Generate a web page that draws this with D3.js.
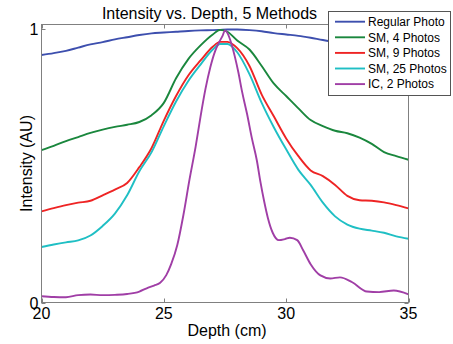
<!DOCTYPE html>
<html>
<head>
<meta charset="utf-8">
<script src="https://cdn.jsdelivr.net/npm/d3@7"></script>
<style>
  body { margin: 0; background: #fff; }
  svg { font-family: 'Liberation Sans', Arial, Helvetica, sans-serif; }
</style>
</head>
<body>
<div id="chart"></div>
<script>
// depth grid shared by the first four methods (cm)
const depthGrid = [20, 20.5, 21, 21.5, 22, 22.5, 23, 23.5, 24, 24.5, 25, 25.5, 26, 26.5, 27, 27.3,
  27.6, 28, 28.5, 29, 29.5, 30, 30.5, 31, 31.5, 32, 32.5, 33, 33.5, 34, 34.5, 35];

const regularPhoto = [0.905, 0.912, 0.92, 0.932, 0.944, 0.952, 0.962, 0.97, 0.978, 0.984, 0.987, 0.99,
  0.993, 0.995, 0.996, 0.997, 0.998, 0.998, 0.996, 0.992, 0.985, 0.98, 0.975, 0.968, 0.96, 0.953,
  0.948, 0.943, 0.939, 0.935, 0.93, 0.925];
const sm4 = [0.557, 0.573, 0.59, 0.605, 0.62, 0.632, 0.642, 0.65, 0.66, 0.685, 0.73, 0.82, 0.89, 0.94,
  0.98, 0.997, 0.99, 0.958, 0.925, 0.865, 0.8, 0.755, 0.71, 0.667, 0.645, 0.628, 0.619, 0.603, 0.58,
  0.55, 0.535, 0.522];
const sm9 = [0.333, 0.345, 0.356, 0.365, 0.372, 0.392, 0.413, 0.437, 0.495, 0.565, 0.665, 0.755, 0.83,
  0.885, 0.935, 0.953, 0.953, 0.93, 0.865, 0.76, 0.68, 0.6, 0.535, 0.483, 0.462, 0.43, 0.39, 0.374,
  0.372, 0.366, 0.356, 0.344];
const sm25 = [0.203, 0.212, 0.22, 0.227, 0.245, 0.28, 0.325, 0.392, 0.48, 0.55, 0.645, 0.735, 0.81,
  0.87, 0.925, 0.945, 0.945, 0.915, 0.835, 0.73, 0.64, 0.56, 0.485, 0.43, 0.365, 0.315, 0.285, 0.27,
  0.263, 0.255, 0.242, 0.233];

// IC curve is much narrower, so it has its own depth samples
const icDepth = [20, 20.5, 21, 21.5, 22, 22.5, 23, 23.5, 24, 24.3, 24.6, 24.85, 25.1, 25.3, 25.55, 25.8,
  26.05, 26.3, 26.5, 26.7, 26.9, 27.1, 27.25, 27.4, 27.5, 27.6, 27.75, 27.9, 28.05, 28.2, 28.4, 28.6,
  28.8, 28.95, 29.1, 29.25, 29.45, 29.7, 29.95, 30.15, 30.45, 30.7, 31, 31.4, 31.8, 32.2, 32.7, 33.3,
  33.8, 34.4, 35];
const ic2 = [0.023, 0.02, 0.019, 0.027, 0.029, 0.027, 0.028, 0.031, 0.04, 0.052, 0.062, 0.072, 0.1,
  0.14, 0.21, 0.32, 0.45, 0.57, 0.68, 0.78, 0.86, 0.92, 0.95, 0.975, 0.995, 0.985, 0.95, 0.9, 0.84,
  0.77, 0.69, 0.6, 0.52, 0.44, 0.37, 0.31, 0.255, 0.228, 0.232, 0.237, 0.228, 0.19, 0.14, 0.099,
  0.088, 0.092, 0.074, 0.04, 0.038, 0.044, 0.03];

const seriesNames = ['Regular Photo', 'SM, 4 Photos', 'SM, 9 Photos', 'SM, 25 Photos', 'IC, 2 Photos'];
const seriesColors = ['#3d4fae', '#1a873d', '#ee2424', '#1fbfc4', '#a03ea6'];
const xTicks = [20, 25, 30, 35];
const yTicks = [0, 1];

const series = [
  { name: seriesNames[0], color: seriesColors[0], xs: depthGrid, ys: regularPhoto },
  { name: seriesNames[1], color: seriesColors[1], xs: depthGrid, ys: sm4 },
  { name: seriesNames[2], color: seriesColors[2], xs: depthGrid, ys: sm9 },
  { name: seriesNames[3], color: seriesColors[3], xs: depthGrid, ys: sm25 },
  { name: seriesNames[4], color: seriesColors[4], xs: icDepth, ys: ic2 },
];

const W = 453, H = 344;
const plot = { left: 41.5, right: 408.5, top: 24.5, bottom: 302.5 };
const axisColor = '#808080';

const svg = d3.select('#chart').append('svg').attr('width', W).attr('height', H);

const x = d3.scaleLinear().domain([20, 35]).range([plot.left, plot.right]);
const y = d3.scaleLinear().domain([0, 1.0165]).range([plot.bottom, plot.top]);

const line = d3.line()
  .x((d) => x(d[0]))
  .y((d) => y(d[1]))
  .curve(d3.curveMonotoneX);

// lines
series.forEach((s) => {
  svg.append('path')
    .datum(s.xs.map((v, i) => [v, s.ys[i]]))
    .attr('fill', 'none')
    .attr('stroke', s.color)
    .attr('stroke-width', 1.9)
    .attr('stroke-linejoin', 'round')
    .attr('d', line);
});

// box
svg.append('rect')
  .attr('x', plot.left).attr('y', plot.top)
  .attr('width', plot.right - plot.left).attr('height', plot.bottom - plot.top)
  .attr('fill', 'none').attr('stroke', axisColor).attr('stroke-width', 1);

// x ticks (inward, top and bottom)
const tickLen = 4;
xTicks.forEach((t) => {
  const px = Math.round(x(t)) + 0.5;
  svg.append('line').attr('x1', px).attr('x2', px).attr('y1', plot.bottom).attr('y2', plot.bottom - tickLen)
    .attr('stroke', axisColor);
  svg.append('line').attr('x1', px).attr('x2', px).attr('y1', plot.top).attr('y2', plot.top + tickLen)
    .attr('stroke', axisColor);
  svg.append('text')
    .attr('x', x(t)).attr('y', 319)
    .attr('text-anchor', 'middle')
    .attr('font-size', 16)
    .text(t);
});

// y ticks
yTicks.forEach((t) => {
  const py = Math.round(y(t)) + 0.5;
  svg.append('line').attr('x1', plot.left).attr('x2', plot.left + tickLen).attr('y1', py).attr('y2', py)
    .attr('stroke', axisColor);
  svg.append('line').attr('x1', plot.right).attr('x2', plot.right - tickLen).attr('y1', py).attr('y2', py)
    .attr('stroke', axisColor);
  svg.append('text')
    .attr('x', 38.5).attr('y', y(t) + 6)
    .attr('text-anchor', 'end')
    .attr('font-size', 16)
    .text(t);
});

// title and axis labels
svg.append('text')
  .attr('x', 209.5).attr('y', 18.5)
  .attr('text-anchor', 'middle')
  .attr('font-size', 16)
  .text('Intensity vs. Depth, 5 Methods');

svg.append('text')
  .attr('x', 227).attr('y', 336)
  .attr('text-anchor', 'middle')
  .attr('font-size', 16)
  .text('Depth (cm)');

svg.append('text')
  .attr('transform', `translate(31.5,${(plot.top + plot.bottom) / 2}) rotate(-90)`)
  .attr('text-anchor', 'middle')
  .attr('font-size', 16)
  .text('Intensity (AU)');

// legend
const legend = svg.append('g');
legend.append('rect')
  .attr('x', 328.5).attr('y', 11.5).attr('width', 122).attr('height', 84)
  .attr('fill', '#fff').attr('stroke', '#555').attr('stroke-width', 1);

series.forEach((s, i) => {
  const ly = 21.7 + i * 15.6;
  legend.append('line')
    .attr('x1', 335).attr('x2', 365).attr('y1', ly).attr('y2', ly)
    .attr('stroke', s.color).attr('stroke-width', 1.9);
  legend.append('text')
    .attr('x', 368).attr('y', ly + 4.2)
    .attr('font-size', 12)
    .text(s.name);
});
</script>
</body>
</html>
